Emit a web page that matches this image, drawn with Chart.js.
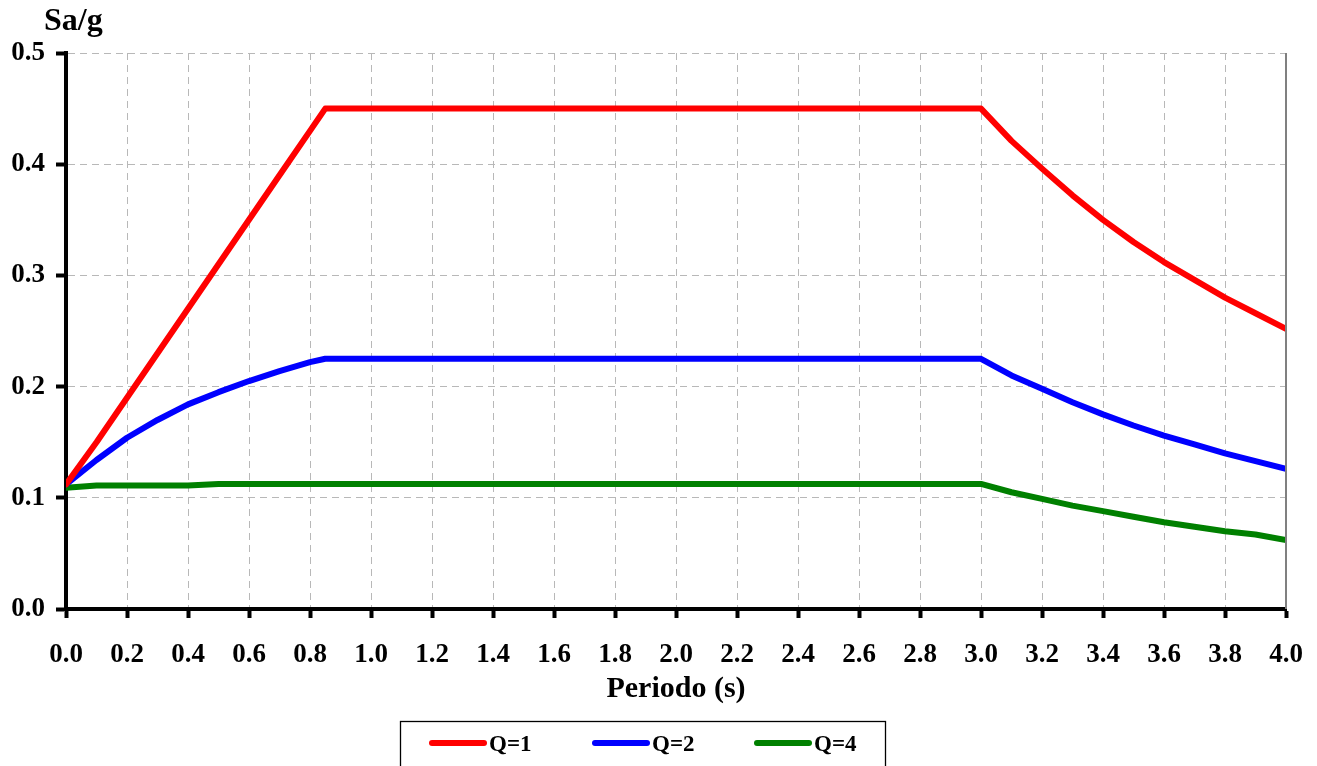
<!DOCTYPE html>
<html>
<head>
<meta charset="utf-8">
<script src="https://cdn.jsdelivr.net/npm/chart.js@4/dist/chart.umd.min.js"></script>
<style>
  html, body { margin: 0; padding: 0; background: #fff; }
  #wrap { width: 1317px; height: 766px; }
</style>
</head>
<body>
<div id="wrap"><canvas id="chart" width="1317" height="766"></canvas></div>
<script>
const periods = [0, 0.1, 0.2, 0.3, 0.4, 0.5, 0.6, 0.7, 0.8, 0.85, 1.0, 1.5, 2.0, 2.5, 3.0,
                 3.1, 3.2, 3.3, 3.4, 3.5, 3.6, 3.7, 3.8, 3.9, 4.0];
const q1 = [0.112, 0.15, 0.19, 0.23, 0.27, 0.31, 0.35, 0.39, 0.43, 0.45, 0.45, 0.45, 0.45, 0.45, 0.45,
            0.421, 0.396, 0.372, 0.350, 0.330, 0.312, 0.296, 0.280, 0.266, 0.252];
const q2 = [0.112, 0.134, 0.154, 0.170, 0.184, 0.195, 0.205, 0.214, 0.222, 0.225, 0.225, 0.225, 0.225, 0.225, 0.225,
            0.210, 0.198, 0.186, 0.175, 0.165, 0.156, 0.148, 0.140, 0.133, 0.126];
const q4 = [0.109, 0.111, 0.111, 0.111, 0.111, 0.1125, 0.1125, 0.1125, 0.1125, 0.1125, 0.1125, 0.1125, 0.1125, 0.1125, 0.1125,
            0.105, 0.099, 0.093, 0.088, 0.083, 0.078, 0.074, 0.070, 0.067, 0.062];
const seriesNames = ['Q=1', 'Q=2', 'Q=4'];
const seriesColors = ['#ff0000', '#0000ff', '#008000'];

const FONT = '"Liberation Serif", "Times New Roman", serif';

function pts(values) {
    return periods.map((t, i) => ({ x: t, y: values[i] }));
}

// title above the y axis, right border, and the boxed legend
const extras = {
    id: 'extras',
    afterDraw(chart) {
        const ctx = chart.ctx;
        const a = chart.chartArea;
        ctx.save();
        ctx.strokeStyle = '#808080';
        ctx.lineWidth = 2;
        ctx.beginPath();
        ctx.moveTo(a.right, a.top);
        ctx.lineTo(a.right, a.bottom);
        ctx.stroke();

        ctx.fillStyle = '#000';
        ctx.font = 'bold 32px ' + FONT;
        ctx.textAlign = 'left';
        ctx.textBaseline = 'alphabetic';
        ctx.fillText('Sa/g', 44, 30);

        ctx.strokeStyle = '#000';
        ctx.lineWidth = 1.3;
        ctx.strokeRect(400.5, 721.5, 485, 60);

        const starts = [432, 595, 757];
        ctx.font = 'bold 23px ' + FONT;
        ctx.textBaseline = 'middle';
        chart.data.datasets.forEach((ds, i) => {
            ctx.strokeStyle = ds.borderColor;
            ctx.lineWidth = 6;
            ctx.lineCap = 'round';
            ctx.beginPath();
            ctx.moveTo(starts[i], 743);
            ctx.lineTo(starts[i] + 52, 743);
            ctx.stroke();
            ctx.fillStyle = '#000';
            ctx.fillText(ds.label, starts[i] + 57, 745);
        });
        ctx.restore();
    }
};

new Chart(document.getElementById('chart'), {
    type: 'line',
    data: {
        datasets: seriesNames.map((name, i) => ({
            label: name,
            data: pts([q1, q2, q4][i]),
            borderColor: seriesColors[i],
            backgroundColor: seriesColors[i],
            borderWidth: 6,
            pointRadius: 0,
            tension: 0,
            borderJoinStyle: 'round',
            borderCapStyle: 'round'
        }))
    },
    options: {
        responsive: false,
        animation: false,
        layout: { padding: { left: 0, right: 31, top: 53, bottom: 58 } },
        plugins: {
            legend: { display: false },
            tooltip: { enabled: false }
        },
        scales: {
            x: {
                type: 'linear',
                min: 0,
                max: 4,
                afterFit(scale) {
                    scale.height = 99;
                    scale.paddingLeft = 0;
                    scale.paddingRight = 0;
                },
                ticks: {
                    stepSize: 0.2,
                    color: '#000',
                    padding: 21,
                    font: { family: FONT, size: 27, weight: 'bold' },
                    callback: v => v.toFixed(1)
                },
                grid: {
                    color: '#b8b8b8',
                    lineWidth: 1,
                    tickColor: '#000',
                    tickWidth: 4,
                    tickLength: 9
                },
                border: { color: '#000', width: 4, dash: [7, 5] },
                title: {
                    display: true,
                    text: 'Periodo (s)',
                    color: '#000',
                    font: { family: FONT, size: 30, weight: 'bold' },
                    padding: { top: 0, bottom: 1 }
                }
            },
            y: {
                min: 0,
                max: 0.5,
                afterFit(scale) { scale.width = 66; },
                ticks: {
                    stepSize: 0.1,
                    color: '#000',
                    padding: 11,
                    font: { family: FONT, size: 27, weight: 'bold' },
                    callback: v => v.toFixed(1)
                },
                grid: {
                    color: '#b8b8b8',
                    lineWidth: 1,
                    tickColor: '#000',
                    tickWidth: 4,
                    tickLength: 10
                },
                border: { color: '#000', width: 4, dash: [7, 5] }
            }
        }
    },
    plugins: [extras]
});
</script>
</body>
</html>
